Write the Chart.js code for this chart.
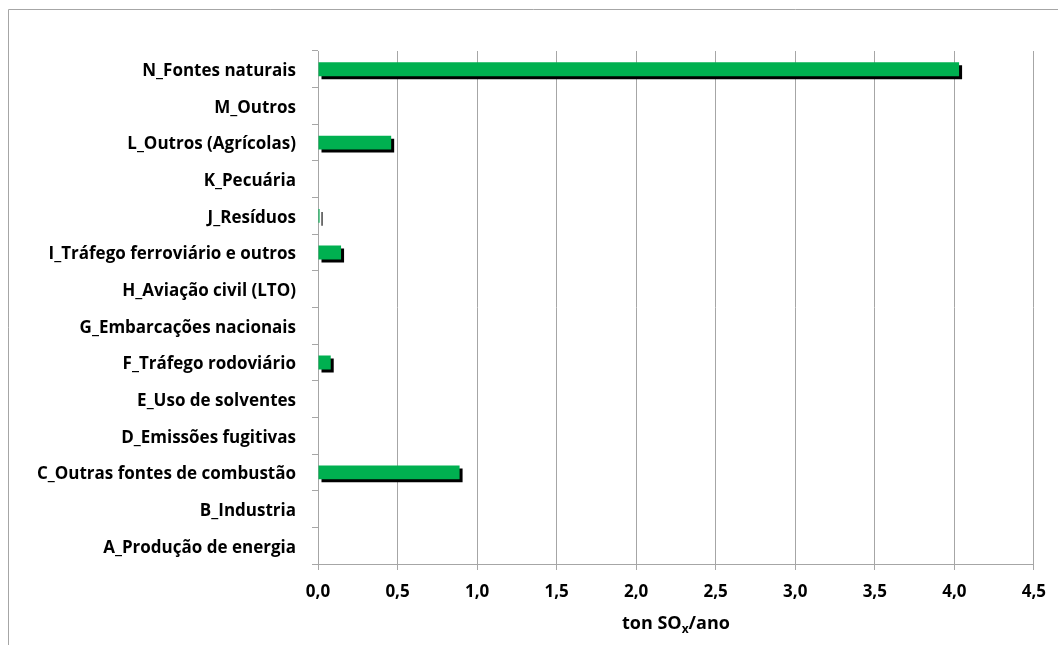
<!DOCTYPE html>
<html><head><meta charset="utf-8">
<script src="https://cdn.jsdelivr.net/npm/chart.js@4.4.0/dist/chart.umd.min.js"></script>
<style>html,body{margin:0;padding:0;background:#fff;}#wrap{position:relative;width:1058px;height:645px;}</style>
</head><body><div id="wrap"><canvas id="c" width="1058" height="645"></canvas></div>
<script>
const categories = ["A_Produção de energia", "B_Industria", "C_Outras fontes de combustão", "D_Emissões fugitivas", "E_Uso de solventes", "F_Tráfego rodoviário", "G_Embarcações nacionais", "H_Aviação civil (LTO)", "I_Tráfego ferroviário e outros", "J_Resíduos", "K_Pecuária", "L_Outros (Agrícolas)", "M_Outros", "N_Fontes naturais"];
const values = [0, 0, 0.89, 0, 0, 0.08, 0, 0, 0.145, 0.01, 0, 0.46, 0, 4.03];
const xMin = 0, xMax = 4.5, xStep = 0.5;
const titleParts = ["ton SO", "x", "/ano"];

const FONT = "'Open Sans', sans-serif";
const GRID = '#a6a6a6';

const framePlugin = {
  id: 'frame',
  beforeDraw(chart) {
    const c = chart.ctx;
    c.save();
    c.strokeStyle = GRID; c.lineWidth = 1;
    c.beginPath();
    c.moveTo(8.5, chart.height); c.lineTo(8.5, 9.5); c.lineTo(chart.width, 9.5);
    c.stroke();
    c.restore();
  }
};
const shadowPlugin = {
  id: 'shadow',
  beforeDatasetDraw(chart) {
    const c = chart.ctx; c.save();
    c.shadowColor = '#000'; c.shadowOffsetX = 3; c.shadowOffsetY = 3; c.shadowBlur = 0;
  },
  afterDatasetDraw(chart) { chart.ctx.restore(); }
};
const titlePlugin = {
  id: 'xtitle',
  afterDraw(chart) {
    const c = chart.ctx, a = chart.chartArea;
    c.save();
    c.fillStyle = '#000'; c.textBaseline = 'alphabetic';
    const big = "bold 18px " + FONT, small = "bold 12px " + FONT;
    c.font = big; const w1 = c.measureText(titleParts[0]).width, w3 = c.measureText(titleParts[2]).width;
    c.font = small; const w2 = c.measureText(titleParts[1]).width;
    const total = w1 + w2 + w3;
    let x = (a.left + a.right) / 2 - total / 2;
    const y = 629;
    c.font = big; c.fillText(titleParts[0], x, y); x += w1;
    c.font = small; c.fillText(titleParts[1], x, y + 4); x += w2;
    c.font = big; c.fillText(titleParts[2], x, y);
    c.restore();
  }
};

new Chart(document.getElementById('c'), {
  type: 'bar',
  data: {
    labels: categories,
    datasets: [{ data: values, backgroundColor: '#00b050', borderWidth: 0, categoryPercentage: 1, barPercentage: 0.38 }]
  },
  plugins: [framePlugin, shadowPlugin, titlePlugin],
  options: {
    indexAxis: 'y',
    responsive: false,
    animation: false,
    layout: { padding: { left: 0, top: 51, right: 23, bottom: 0 } },
    plugins: { legend: { display: false }, tooltip: { enabled: false } },
    scales: {
      x: {
        min: xMin, max: xMax,
        ticks: { stepSize: xStep, color: '#000', font: { family: FONT, size: 17, weight: 'bold' }, padding: 12,
          callback: v => v.toFixed(1).replace('.', ',') },
        grid: { color: GRID, tickLength: 6, tickColor: GRID },
        border: { color: GRID },
        afterFit(s) { s.height = 81; }
      },
      y: {
        reverse: true,
        ticks: { color: '#000', font: { family: FONT, size: 17, weight: 'bold' }, padding: 16, labelOffset: 2 },
        grid: { drawOnChartArea: false, offset: true, tickLength: 6, tickColor: GRID, color: GRID },
        border: { color: GRID },
        afterFit(s) { s.width = 318; }
      }
    }
  }
});
</script></body></html>
